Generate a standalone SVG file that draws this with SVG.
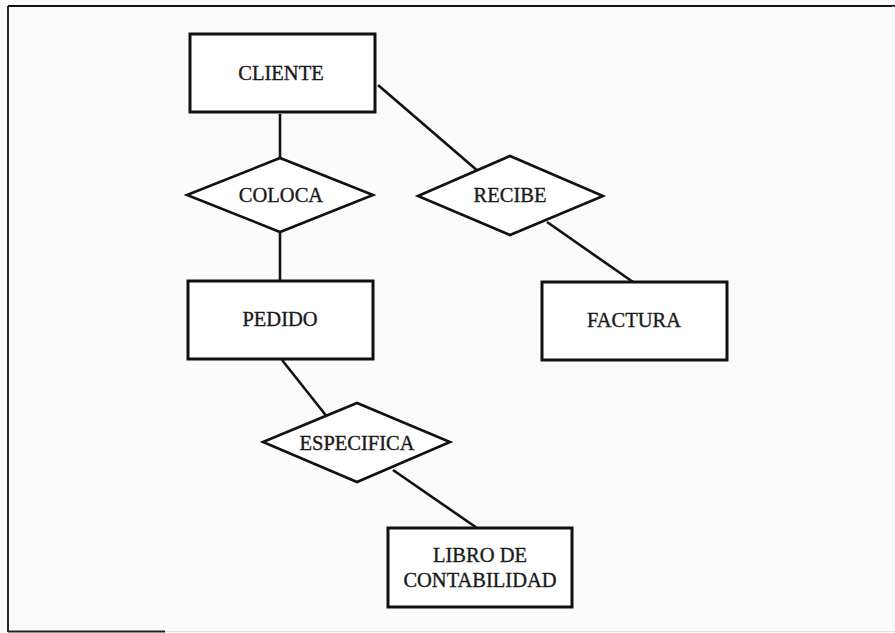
<svg xmlns="http://www.w3.org/2000/svg" width="895" height="633" viewBox="0 0 895 633">
<style>
.ent{fill:#fff;stroke:#111;stroke-width:3}
.rel{fill:#fff;stroke:#111;stroke-width:2.6;stroke-linejoin:miter}
.con line{stroke:#111;stroke-width:2.6}
text{font-family:"Liberation Serif","Times New Roman",serif;font-size:20.5px;fill:#1a1a1a;stroke:#1a1a1a;stroke-width:0.35;text-anchor:middle}
</style>
<rect width="895" height="633" fill="#fbfbfb"/>
<g id="frame" fill="none">
<line x1="8" y1="6" x2="895" y2="6" stroke="#111" stroke-width="2"/>
<line x1="8" y1="6" x2="8" y2="632" stroke="#111" stroke-width="1.8"/>
<line x1="8" y1="631.5" x2="165" y2="631.5" stroke="#222" stroke-width="2"/>
<line x1="165" y1="631.5" x2="895" y2="631.5" stroke="#ddd" stroke-width="1"/>
<line x1="893" y1="6" x2="893" y2="632" stroke="#eee" stroke-width="1"/>
</g>
<g id="connectors" class="con">
<line x1="280" y1="114" x2="280" y2="158"/>
<line x1="280" y1="232" x2="280" y2="282"/>
<line x1="378" y1="85" x2="479" y2="172"/>
<line x1="547" y1="222" x2="633" y2="282"/>
<line x1="282" y1="360" x2="328" y2="418"/>
<line x1="393" y1="470" x2="477" y2="528"/>
</g>
<g id="cliente">
<rect class="ent" x="190" y="34" width="185" height="78"/>
<text x="281" y="80">CLIENTE</text>
</g>
<g id="coloca">
<polygon class="rel" points="187,195 280,158 373,195 280,232"/>
<text x="281" y="202">COLOCA</text>
</g>
<g id="recibe">
<polygon class="rel" points="418,196 510,156 603,196 510,235"/>
<text x="510" y="202">RECIBE</text>
</g>
<g id="pedido">
<rect class="ent" x="188" y="281" width="185" height="78"/>
<text x="280" y="326">PEDIDO</text>
</g>
<g id="factura">
<rect class="ent" x="542" y="282" width="185" height="78"/>
<text x="634" y="327">FACTURA</text>
</g>
<g id="especifica">
<polygon class="rel" points="263,442 357,403 450,442 357,482"/>
<text x="357" y="450">ESPECIFICA</text>
</g>
<g id="libro">
<rect class="ent" x="388" y="528" width="184" height="79"/>
<text x="480" y="562">LIBRO DE</text>
<text x="480" y="587">CONTABILIDAD</text>
</g>
</svg>
